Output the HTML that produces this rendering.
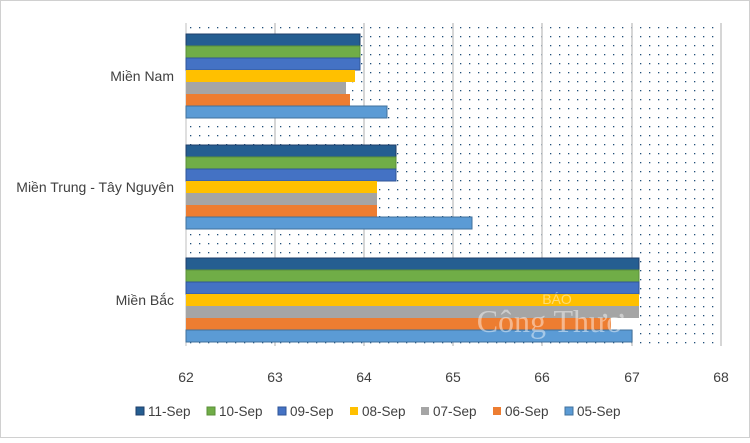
<!DOCTYPE html>
<html><head><meta charset="utf-8"><style>
body{margin:0;background:#fff}
svg text{font-family:"Liberation Sans",sans-serif;fill:#404040}
</style></head><body>
<svg width="750" height="438" viewBox="0 0 750 438" xmlns="http://www.w3.org/2000/svg">
<defs><pattern id="dots" x="186" y="23" width="9" height="9" patternUnits="userSpaceOnUse"><rect x="4" y="4" width="1.3" height="1.3" fill="#1f4e79"/></pattern></defs>
<rect x="0.5" y="0.5" width="749" height="437" fill="#fff" stroke="#d0d0d0"/>
<rect x="186" y="23" width="535" height="323" fill="url(#dots)"/>
<g stroke="#c8c8c8" stroke-width="1.5">
<line x1="275" y1="23" x2="275" y2="346"/><line x1="364" y1="23" x2="364" y2="346"/><line x1="453" y1="23" x2="453" y2="346"/><line x1="542" y1="23" x2="542" y2="346"/><line x1="632" y1="23" x2="632" y2="346"/><line x1="721" y1="23" x2="721" y2="346"/>
</g>
<line x1="186" y1="23" x2="186" y2="346" stroke="#bfbfbf"/>
<g stroke-width="1">
<rect x="186" y="34" width="174" height="12" fill="#255e91" stroke="#1f3f6a"/>
<rect x="186" y="46" width="174" height="12" fill="#70ad47" stroke="#5a8f38"/>
<rect x="186" y="58" width="174" height="12" fill="#4472c4" stroke="#2f5597"/>
<rect x="186" y="70" width="169" height="12" fill="#ffc000"/>
<rect x="186" y="82" width="160" height="12" fill="#a5a5a5"/>
<rect x="186" y="94" width="164" height="12" fill="#ed7d31"/>
<rect x="186" y="106" width="201" height="12" fill="#5b9bd5" stroke="#41719c"/>
<rect x="186" y="145" width="210" height="12" fill="#255e91" stroke="#1f3f6a"/>
<rect x="186" y="157" width="210" height="12" fill="#70ad47" stroke="#5a8f38"/>
<rect x="186" y="169" width="210" height="12" fill="#4472c4" stroke="#2f5597"/>
<rect x="186" y="181" width="191" height="12" fill="#ffc000"/>
<rect x="186" y="193" width="191" height="12" fill="#a5a5a5"/>
<rect x="186" y="205" width="191" height="12" fill="#ed7d31"/>
<rect x="186" y="217" width="286" height="12" fill="#5b9bd5" stroke="#41719c"/>
<rect x="186" y="258" width="453" height="12" fill="#255e91" stroke="#1f3f6a"/>
<rect x="186" y="270" width="453" height="12" fill="#70ad47" stroke="#5a8f38"/>
<rect x="186" y="282" width="453" height="12" fill="#4472c4" stroke="#2f5597"/>
<rect x="186" y="294" width="453" height="12" fill="#ffc000"/>
<rect x="186" y="306" width="453" height="12" fill="#a5a5a5"/>
<rect x="611" y="318" width="28" height="12" fill="#fff"/>
<rect x="186" y="318" width="425" height="12" fill="#ed7d31"/>
<rect x="186" y="330" width="446" height="12" fill="#5b9bd5" stroke="#41719c"/>
</g>
<text x="557" y="304" font-size="14" style="fill:#fff;opacity:.45" text-anchor="middle">BÁO</text>
<text x="550" y="332" font-size="32" style="fill:#fff;opacity:.45;font-family:'Liberation Serif',serif" text-anchor="middle">Công Thươ</text>
<g font-size="14" text-anchor="end">
<text x="174" y="81">Miền Nam</text>
<text x="174" y="192">Miền Trung - Tây Nguyên</text>
<text x="174" y="305">Miền Bắc</text>
</g>
<g font-size="14" text-anchor="middle">
<text x="186" y="382">62</text><text x="275" y="382">63</text><text x="364" y="382">64</text><text x="453" y="382">65</text><text x="542" y="382">66</text><text x="632" y="382">67</text><text x="721" y="382">68</text>
</g>
<g font-size="13.5">
<rect x="136" y="407" width="8" height="8" fill="#255e91" stroke="#1f3f6a"/><text x="148" y="416">11-Sep</text>
<rect x="207" y="407" width="8" height="8" fill="#70ad47" stroke="#5a8f38"/><text x="219" y="416">10-Sep</text>
<rect x="278" y="407" width="8" height="8" fill="#4472c4" stroke="#2f5597"/><text x="290" y="416">09-Sep</text>
<rect x="350" y="407" width="8" height="8" fill="#ffc000"/><text x="362" y="416">08-Sep</text>
<rect x="421" y="407" width="8" height="8" fill="#a5a5a5"/><text x="433" y="416">07-Sep</text>
<rect x="493" y="407" width="8" height="8" fill="#ed7d31"/><text x="505" y="416">06-Sep</text>
<rect x="565" y="407" width="8" height="8" fill="#5b9bd5" stroke="#41719c"/><text x="577" y="416">05-Sep</text>
</g>
</svg>
</body></html>
